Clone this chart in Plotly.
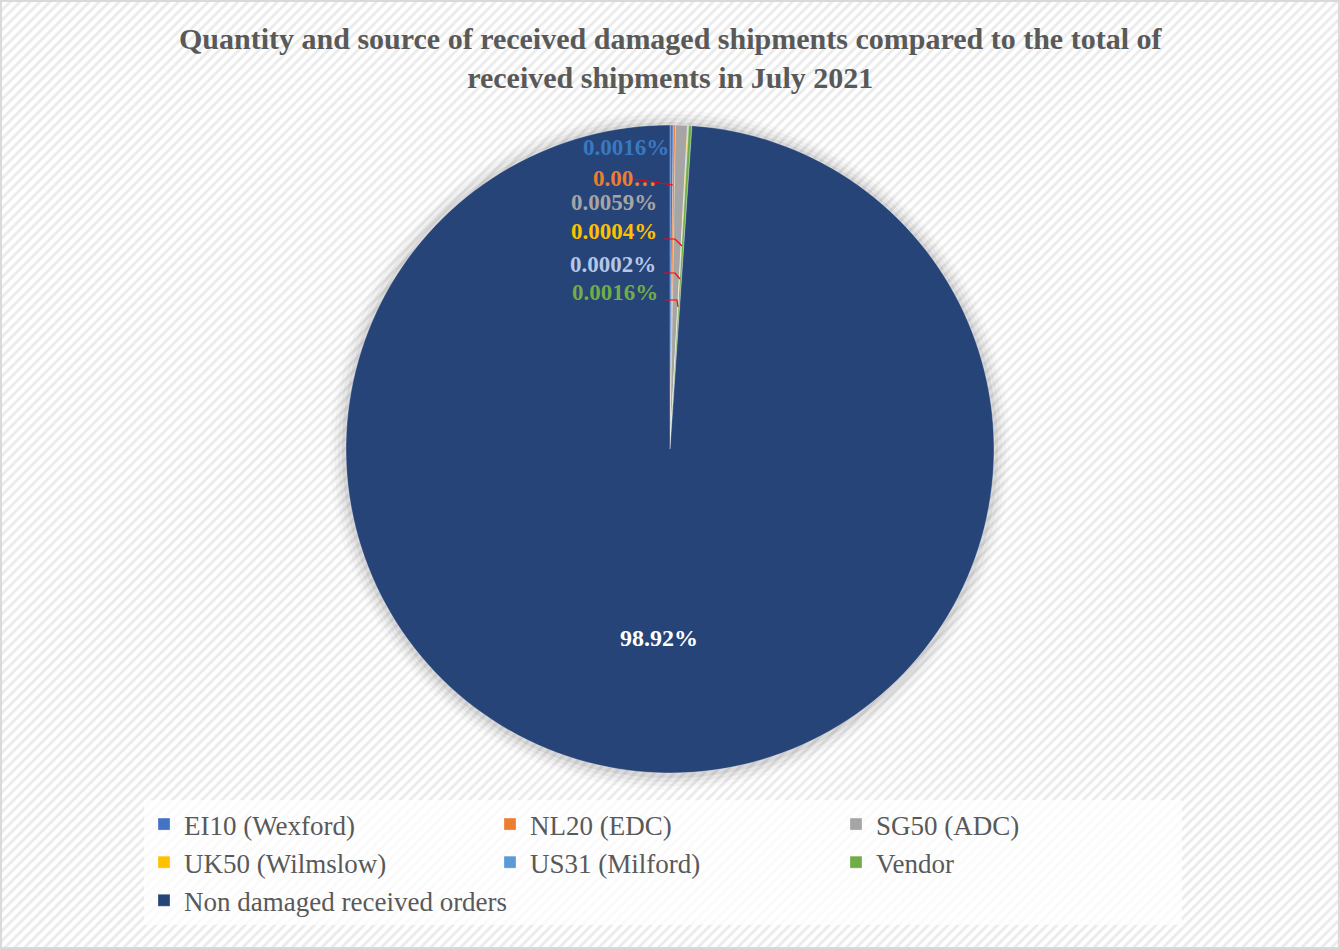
import base64
import plotly.graph_objects as go

# ---- data ----
categories = ["EI10 (Wexford)", "NL20 (EDC)", "SG50 (ADC)", "UK50 (Wilmslow)",
              "US31 (Milford)", "Vendor", "Non damaged received orders"]
shares = [0.16, 0.11, 0.59, 0.04, 0.02, 0.16, 98.92]
label_texts = ["0.0016%", "0.00…", "0.0059%", "0.0004%", "0.0002%", "0.0016%", "98.92%"]
title_lines = ["Quantity and source of received damaged shipments compared to the total of",
               "received shipments in July 2021"]

# ---- styles ----
colors = ["#4472c4", "#ed7d31", "#a5a5a5", "#ffc000", "#5b9bd5", "#70ad47", "#264478"]
label_colors = ["#3a78c0", "#ed7d31", "#a5a5a5", "#ffc000", "#b4c7e7", "#70ad47", "#ffffff"]
W, H = 1340, 949
# label anchor positions (pixels: right edge x, center y) mimicking the original placement
label_pos = [(671, 147), (658, 178), (659, 202), (659, 231), (658, 265), (660, 292), (659, 638)]
label_sizes = [23, 23, 23, 23, 23, 23, 24]

SERIF = "Liberation Serif, Times New Roman, serif"

# background diagonal stripe pattern as inline SVG
svg = f'''<svg xmlns="http://www.w3.org/2000/svg" width="{W}" height="{H}">
<defs><pattern id="p" width="7" height="7" patternUnits="userSpaceOnUse" patternTransform="rotate(45)">
<rect width="7" height="7" fill="#ffffff"/><rect width="3" height="7" fill="#ececec"/></pattern></defs>
<rect width="{W}" height="{H}" fill="url(#p)"/></svg>'''
bg_uri = "data:image/svg+xml;base64," + base64.b64encode(svg.encode()).decode()

cx, cy, r = 670, 449, 324


def dom(rad, dx=0, dy=0):
    return dict(x=[(cx + dx - rad) / W, (cx + dx + rad) / W],
                y=[1 - (cy + dy + rad) / H, 1 - (cy + dy - rad) / H])


fig = go.Figure()
# soft shadow/glow behind the pie
for k, a in [(16, 0.02), (12, 0.03), (8, 0.04), (4, 0.06)]:
    fig.add_trace(go.Pie(values=[1], labels=["shadow"], marker=dict(colors=[f"rgba(0,0,0,{a})"]),
                         domain=dom(r + k, 0, 1), textinfo="none", hoverinfo="skip",
                         showlegend=False, sort=False))

fig.add_trace(go.Pie(
    labels=categories, values=shares, sort=False, direction="clockwise", rotation=0,
    marker=dict(colors=colors, line=dict(width=0.5, color="rgba(255,255,255,0.6)")),
    textinfo="none", domain=dom(r),
))

annotations = []
for t, (x, y), c, s in zip(label_texts, label_pos, label_colors, label_sizes):
    annotations.append(dict(text=f"<b>{t}</b>", x=x / W, y=1 - y / H, xref="paper", yref="paper",
                            xanchor="center" if t == "98.92%" else "right", yanchor="middle",
                            showarrow=False, font=dict(family=SERIF, size=s, color=c)))
annotations.append(dict(text="<b>" + "<br>".join(title_lines) + "</b>", x=0.5, y=1 - 58 / H,
                        xref="paper", yref="paper", xanchor="center", yanchor="middle",
                        showarrow=False, font=dict(family=SERIF, size=30, color="#595959")))

# red leader lines
leaders = [
    [(633, 179), (673, 185)],
    [(664, 239), (675, 239), (682, 246)],
    [(664, 273), (675, 273), (680, 279)],
    [(665, 300), (677, 300), (678, 307)],
]
shapes = []
for pts in leaders:
    path = "M " + " L ".join(f"{x / W},{1 - y / H}" for x, y in pts)
    shapes.append(dict(type="path", path=path, xref="paper", yref="paper",
                       line=dict(color="#ff0000", width=1.2)))
# outer border
shapes.append(dict(type="rect", xref="paper", yref="paper", x0=0.0008, y0=0.001, x1=0.9992, y1=0.999,
                   line=dict(color="#d9d9d9", width=2)))

fig.update_layout(
    width=W, height=H,
    margin=dict(l=0, r=0, t=0, b=0),
    paper_bgcolor="#ffffff", plot_bgcolor="rgba(0,0,0,0)",
    images=[dict(source=bg_uri, xref="paper", yref="paper", x=0, y=1, sizex=1, sizey=1,
                 sizing="stretch", layer="below", xanchor="left", yanchor="top")],
    legend=dict(orientation="h", x=144 / W, xanchor="left", y=1 - 800 / H, yanchor="top",
                entrywidth=301, entrywidthmode="pixels",
                font=dict(family=SERIF, size=27, color="#595959"),
                bgcolor="rgba(255,255,255,0.75)", traceorder="normal"),
    annotations=annotations,
    shapes=shapes,
)

fig.write_html("out.html")
